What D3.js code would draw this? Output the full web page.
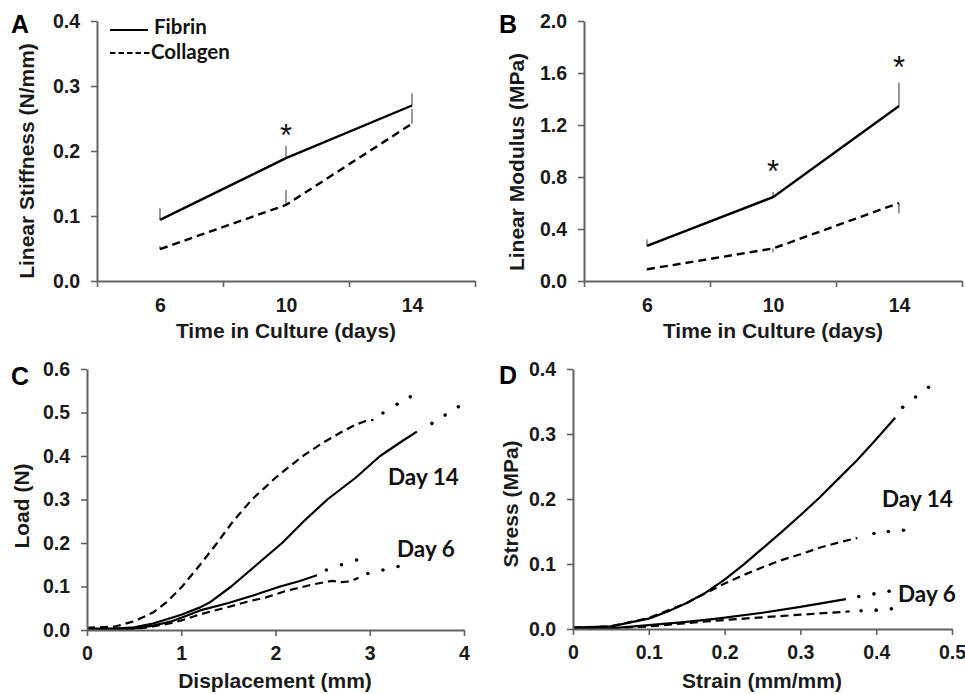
<!DOCTYPE html>
<html><head><meta charset="utf-8">
<script src="https://cdn.jsdelivr.net/npm/d3@7"></script>
<style>
body{margin:0;background:#fff}
svg{display:block}
.tick text{font-family:"Liberation Sans",Arial,sans-serif;font-weight:bold;font-size:19.5px;fill:#1a1a1a}
.ttl{font-family:"Liberation Sans",Arial,sans-serif;font-weight:bold;font-size:21px;fill:#1a1a1a}
.lbl{font-family:"Liberation Sans",Arial,sans-serif;font-weight:bold;font-size:25px;fill:#000}
.cal{font-family:Lato,"Open Sans",sans-serif;font-weight:bold;font-size:22.5px;fill:#111}
.leg{font-family:Lato,"Open Sans",sans-serif;font-weight:bold;font-size:20.5px;fill:#111}
.star{font-family:"Liberation Sans",Arial,sans-serif;font-size:31px;fill:#111}
</style></head><body>
<svg id="c" width="965" height="694"></svg>
<script>
// ---------- data ----------
const days = ["6", "10", "14"];
const stiffTicks = [0, 0.1, 0.2, 0.3, 0.4];
const modTicks = [0, 0.4, 0.8, 1.2, 1.6, 2.0];
const loadTicks = [0, 0.1, 0.2, 0.3, 0.4, 0.5, 0.6];
const dispTicks = [0, 1, 2, 3, 4];
const stressTicks = [0, 0.1, 0.2, 0.3, 0.4];
const strainTicks = [0, 0.1, 0.2, 0.3, 0.4, 0.5];

// Panel A: linear stiffness (N/mm)
const stiffFibrin = [0.094, 0.189, 0.27];
const stiffFibrinErr = [0.018, 0.019, 0.019];
const stiffCollagen = [0.049, 0.117, 0.242];
const stiffCollagenErr = [0.005, 0.023, 0.023];
const stiffStars = [null, 0.229, null];        // significance marker heights
// Panel B: linear modulus (MPa)
const modFibrin = [0.27, 0.645, 1.346];
const modFibrinErr = [0.05, 0.04, 0.18];
const modCollagen = [0.09, 0.25, 0.60];
const modCollagenErr = [-0.01, -0.03, -0.08];
const modStars = [null, 0.869, 1.669];

// Panel C: load (N) vs displacement (mm)
const c14ColX = [0, 0.3, 0.5, 0.7, 0.85, 1.01, 1.2, 1.38, 1.55, 1.75, 2.0, 2.29, 2.5, 2.7, 2.85, 2.95, 3.04];
const c14ColY = [0.005, 0.008, 0.02, 0.04, 0.065, 0.1, 0.15, 0.2, 0.25, 0.3, 0.35, 0.4, 0.43, 0.455, 0.472, 0.48, 0.483];
const c14ColDotX = [3.14, 3.29, 3.43];
const c14ColDotY = [0.499, 0.519, 0.536];
const c14FibX = [0, 0.3, 0.5, 0.7, 0.9, 1.0, 1.2, 1.3, 1.53, 1.8, 2.07, 2.3, 2.55, 2.85, 3.11, 3.35, 3.5];
const c14FibY = [0.003, 0.003, 0.006, 0.015, 0.028, 0.035, 0.052, 0.063, 0.1, 0.15, 0.2, 0.25, 0.3, 0.35, 0.4, 0.435, 0.456];
const c14FibDotX = [3.66, 3.80, 3.94];
const c14FibDotY = [0.475, 0.494, 0.513];
const c6FibX = [0, 0.3, 0.5, 0.7, 0.9, 1.0, 1.2, 1.5, 1.8, 2.05, 2.25, 2.44];
const c6FibY = [0.002, 0.002, 0.003, 0.01, 0.02, 0.028, 0.045, 0.062, 0.082, 0.1, 0.112, 0.126];
const c6FibDotX = [2.54, 2.70, 2.86];
const c6FibDotY = [0.138, 0.15, 0.161];
const c6ColX = [0, 0.3, 0.5, 0.7, 0.9, 1.0, 1.2, 1.5, 1.7, 1.9, 2.1, 2.4, 2.6, 2.7, 2.8, 2.88];
const c6ColY = [0.004, 0.003, 0.002, 0.008, 0.016, 0.022, 0.036, 0.053, 0.065, 0.075, 0.089, 0.105, 0.113, 0.11, 0.112, 0.12];
const c6ColDotX = [2.98, 3.14, 3.30];
const c6ColDotY = [0.13, 0.138, 0.146];

// Panel D: stress (MPa) vs strain (mm/mm)
const d14FibX = [0, 0.05, 0.1, 0.125, 0.15, 0.175, 0.2, 0.225, 0.25, 0.275, 0.3, 0.325, 0.35, 0.375, 0.4, 0.425];
const d14FibY = [0.002, 0.004, 0.016, 0.027, 0.04, 0.056, 0.076, 0.099, 0.124, 0.149, 0.175, 0.202, 0.231, 0.26, 0.292, 0.325];
const d14FibDotX = [0.435, 0.452, 0.469];
const d14FibDotY = [0.341, 0.357, 0.372];
const d14ColX = [0, 0.05, 0.1, 0.15, 0.175, 0.2, 0.225, 0.25, 0.275, 0.3, 0.325, 0.35, 0.375];
const d14ColY = [0.002, 0.004, 0.017, 0.04, 0.055, 0.07, 0.083, 0.095, 0.106, 0.115, 0.125, 0.133, 0.14];
const d14ColDotX = [0.397, 0.416, 0.436];
const d14ColDotY = [0.147, 0.15, 0.152];
const d6FibX = [0, 0.05, 0.1, 0.15, 0.19, 0.25, 0.3, 0.36];
const d6FibY = [0.001, 0.001, 0.006, 0.011, 0.016, 0.025, 0.034, 0.046];
const d6FibDotX = [0.377, 0.397, 0.417];
const d6FibDotY = [0.05, 0.054, 0.058];
const d6ColX = [0, 0.05, 0.1, 0.15, 0.19, 0.25, 0.3, 0.365];
const d6ColY = [0.002, 0.001, 0.004, 0.009, 0.013, 0.018, 0.022, 0.027];
const d6ColDotX = [0.38, 0.40, 0.42];
const d6ColDotY = [0.028, 0.029, 0.031];

// ---------- drawing ----------
const svg = d3.select("#c");
const AXC = "#626262";
const DASH = "8,5";

function styleAxis(g) {
  g.select(".domain").attr("stroke", AXC).attr("stroke-width", 2);
  g.selectAll(".tick line").attr("stroke", AXC).attr("stroke-width", 1.6);
}

function yAxis(y, x0, ticks, fmt, pad) {
  const g = svg.append("g").attr("transform", `translate(${x0},0)`)
    .call(d3.axisLeft(y).tickValues(ticks).tickFormat(d3.format(fmt)).tickSize(6).tickSizeOuter(0).tickPadding(pad));
  styleAxis(g);
}

function catPanel(x0, x1, yTop, yBot, ymax, ticks, fmt, fib, fibErr, col, colErr, stars) {
  const y = d3.scaleLinear().domain([0, ymax]).range([yBot, yTop]);
  const xb = d3.scaleLinear().domain([0, days.length]).range([x0, x1]);
  const xp = d3.scalePoint().domain(days).range([x0, x1]).padding(0.5);
  const eb = svg.append("g").attr("stroke", "#777").attr("stroke-width", 1.5);
  days.forEach((d, i) => {
    eb.append("line").attr("x1", xp(d)).attr("x2", xp(d)).attr("y1", y(fib[i])).attr("y2", y(fib[i] + fibErr[i]));
    eb.append("line").attr("x1", xp(d)).attr("x2", xp(d)).attr("y1", y(col[i])).attr("y2", y(col[i] + colErr[i]));
  });
  const line = d3.line().x((d, i) => xp(days[i])).y(d => y(d));
  svg.append("path").datum(fib).attr("d", line).attr("fill", "none").attr("stroke", "#000").attr("stroke-width", 2.4);
  svg.append("path").datum(col).attr("d", line).attr("fill", "none").attr("stroke", "#000").attr("stroke-width", 2.4).attr("stroke-dasharray", DASH);
  days.forEach((d, i) => {
    if (stars[i] != null) svg.append("text").attr("class", "star").attr("text-anchor", "middle")
      .attr("x", xp(d)).attr("y", y(stars[i]) + 14).text("*");
  });
  yAxis(y, x0, ticks, fmt, 11);
  const gb = svg.append("g").attr("transform", `translate(0,${yBot})`)
    .call(d3.axisBottom(xb).tickValues(d3.range(days.length + 1)).tickFormat("").tickSize(6).tickSizeOuter(0));
  styleAxis(gb);
  const gl = svg.append("g").attr("transform", `translate(0,${yBot})`)
    .call(d3.axisBottom(xp).tickSize(0).tickPadding(17));
  gl.select(".domain").remove();
  return {y, xp};
}

catPanel(97, 475, 21, 281, 0.4, stiffTicks, ".1f", stiffFibrin, stiffFibrinErr, stiffCollagen, stiffCollagenErr, stiffStars);
catPanel(584, 962, 21, 281, 2.0, modTicks, ".1f", modFibrin, modFibrinErr, modCollagen, modCollagenErr, modStars);

function curvePanel(x0, x1, yTop, yBot, xmax, ymax, xt, yt, xfmt, yfmt, curves) {
  const x = d3.scaleLinear().domain([0, xmax]).range([x0, x1]);
  const y = d3.scaleLinear().domain([0, ymax]).range([yBot, yTop]);
  const line = d3.line().x(d => x(d[0])).y(d => y(d[1]));
  curves.forEach(c => {
    const pts = c.xs.map((v, i) => [v, c.ys[i]]);
    svg.append("path").datum(pts).attr("d", line).attr("fill", "none").attr("stroke", "#000")
      .attr("stroke-width", 2.2).attr("stroke-linejoin", "round").attr("stroke-dasharray", c.dash ? DASH : null);
    const dots = c.dx.map((v, i) => [v, c.dy[i]]);
    svg.append("g").selectAll("circle").data(dots).join("circle")
      .attr("cx", d => x(d[0])).attr("cy", d => y(d[1])).attr("r", 1.8).attr("fill", "#000");
  });
  yAxis(y, x0, yt, yfmt, 11);
  const gb = svg.append("g").attr("transform", `translate(0,${yBot})`)
    .call(d3.axisBottom(x).tickValues(xt).tickFormat(d3.format(xfmt)).tickSize(6).tickSizeOuter(0).tickPadding(10));
  styleAxis(gb);
  return {x, y};
}

curvePanel(87, 464, 369, 630, 4, 0.6, dispTicks, loadTicks, "d", ".1f", [
  {xs: c14ColX, ys: c14ColY, dx: c14ColDotX, dy: c14ColDotY, dash: true},
  {xs: c14FibX, ys: c14FibY, dx: c14FibDotX, dy: c14FibDotY, dash: false},
  {xs: c6FibX, ys: c6FibY, dx: c6FibDotX, dy: c6FibDotY, dash: false},
  {xs: c6ColX, ys: c6ColY, dx: c6ColDotX, dy: c6ColDotY, dash: true}
]);
curvePanel(573, 952, 369, 629, 0.5, 0.4, strainTicks, stressTicks, ".1~f", ".1f", [
  {xs: d14FibX, ys: d14FibY, dx: d14FibDotX, dy: d14FibDotY, dash: false},
  {xs: d14ColX, ys: d14ColY, dx: d14ColDotX, dy: d14ColDotY, dash: true},
  {xs: d6FibX, ys: d6FibY, dx: d6FibDotX, dy: d6FibDotY, dash: false},
  {xs: d6ColX, ys: d6ColY, dx: d6ColDotX, dy: d6ColDotY, dash: true}
]);

// ---------- text ----------
function t(cls, x, y, s, anchor, rot) {
  const e = svg.append("text").attr("class", cls).attr("text-anchor", anchor || "start").text(s);
  if (rot) e.attr("transform", `translate(${x},${y}) rotate(-90)`);
  else e.attr("x", x).attr("y", y);
  return e;
}
t("lbl", 11, 33, "A"); t("lbl", 499, 33, "B"); t("lbl", 11, 385, "C"); t("lbl", 499, 384, "D");
t("ttl", 34, 161, "Linear Stiffness (N/mm)", "middle", true);
t("ttl", 524, 162, "Linear Modulus (MPa)", "middle", true);
t("ttl", 29, 506, "Load (N)", "middle", true);
t("ttl", 518, 504, "Stress (MPa)", "middle", true);
t("ttl", 286, 338, "Time in Culture (days)", "middle");
t("ttl", 773, 338, "Time in Culture (days)", "middle");
t("ttl", 275, 688, "Displacement (mm)", "middle");
t("ttl", 762, 688, "Strain (mm/mm)", "middle");
// legend
svg.append("line").attr("x1", 110).attr("x2", 148).attr("y1", 30).attr("y2", 30).attr("stroke", "#000").attr("stroke-width", 2);
svg.append("line").attr("x1", 110).attr("x2", 151).attr("y1", 53).attr("y2", 53).attr("stroke", "#000").attr("stroke-width", 2).attr("stroke-dasharray", "5.5,3");
t("leg", 154, 34, "Fibrin"); t("leg", 151, 59, "Collagen");
t("cal", 388, 485, "Day 14"); t("cal", 397, 557, "Day 6");
t("cal", 882, 507, "Day 14"); t("cal", 898, 602, "Day 6");
</script>
</body></html>
